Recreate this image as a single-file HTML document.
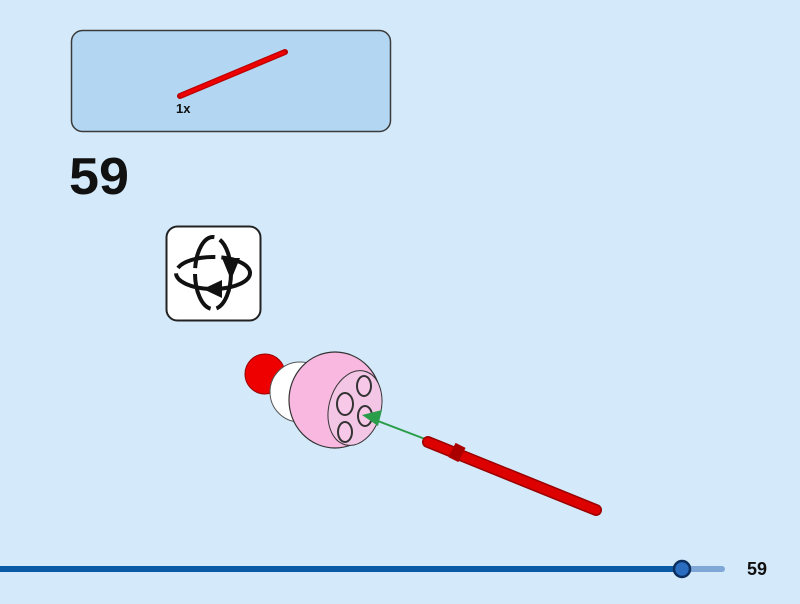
<!DOCTYPE html>
<html><head><style>
body{margin:0;width:800px;height:604px;background:#d4eafa;position:relative;overflow:hidden;font-family:"Liberation Sans",sans-serif}
</style></head><body>
<svg width="800" height="604" style="position:absolute;left:0;top:0">
<rect x="71.5" y="30.5" width="319" height="101" rx="11" fill="#b3d7f2" stroke="#3a3a3a" stroke-width="1.5"/>
<line x1="180" y1="96" x2="285" y2="52" stroke="#b00" stroke-width="6" stroke-linecap="round"/>
<line x1="180" y1="96" x2="285" y2="52" stroke="#e00" stroke-width="3.5"/>
<text x="176" y="113" font-size="13" font-weight="bold" fill="#111">1x</text>
<text x="69" y="194" font-size="52" font-weight="bold" fill="#111" textLength="60" lengthAdjust="spacingAndGlyphs">59</text>
<rect x="166.5" y="226.5" width="94" height="94" rx="11" fill="#fff" stroke="#222" stroke-width="2"/>
<ellipse cx="213" cy="273" rx="37" ry="16" fill="none" stroke="#111" stroke-width="4" stroke-dasharray="40 6"/>
<ellipse cx="213" cy="273" rx="18" ry="36" fill="none" stroke="#111" stroke-width="4" stroke-dasharray="40 6"/>
<polygon points="222,258 240,258 231,280" fill="#111"/>
<polygon points="203,289 222,280 222,298" fill="#111"/>
<!-- model -->
<circle cx="265" cy="374" r="20" fill="#e00" stroke="#900" stroke-width="1"/>
<ellipse cx="300" cy="392" rx="30" ry="30" fill="#fff" stroke="#555"/>
<ellipse cx="335" cy="400" rx="46" ry="48" fill="#f8b8e0" stroke="#333" stroke-width="1.2"/>
<ellipse cx="355" cy="408" rx="26" ry="38" fill="#f4c6e6" stroke="#333" transform="rotate(15 355 408)"/>
<ellipse cx="345" cy="404" rx="8" ry="11" fill="#f8c8e8" stroke="#333" stroke-width="2"/>
<ellipse cx="364" cy="386" rx="7" ry="10" fill="#f8c8e8" stroke="#333" stroke-width="2"/>
<ellipse cx="365" cy="416" rx="7" ry="10" fill="#f8c8e8" stroke="#333" stroke-width="2"/>
<ellipse cx="345" cy="432" rx="7" ry="10" fill="#f8c8e8" stroke="#333" stroke-width="2"/>
<line x1="425" y1="439" x2="370" y2="418" stroke="#2a9d4a" stroke-width="2"/>
<polygon points="362,415 382,410 378,426" fill="#2a9d4a"/>
<line x1="428" y1="442" x2="596" y2="510" stroke="#900" stroke-width="12" stroke-linecap="round"/>
<line x1="428" y1="442" x2="596" y2="510" stroke="#d00" stroke-width="9" stroke-linecap="round"/>
<line x1="452" y1="450" x2="462" y2="455" stroke="#a00" stroke-width="16"/>
<!-- bottom bar -->
<line x1="0" y1="569" x2="682" y2="569" stroke="#0a5aa8" stroke-width="6"/>
<line x1="682" y1="569" x2="722" y2="569" stroke="#7fa8d8" stroke-width="6" stroke-linecap="round"/>
<circle cx="682" cy="569" r="8" fill="#2a6cc0" stroke="#0b2e5e" stroke-width="2.5"/>
<text x="747" y="575" font-size="18" font-weight="bold" fill="#111">59</text>
</svg>
</body></html>
